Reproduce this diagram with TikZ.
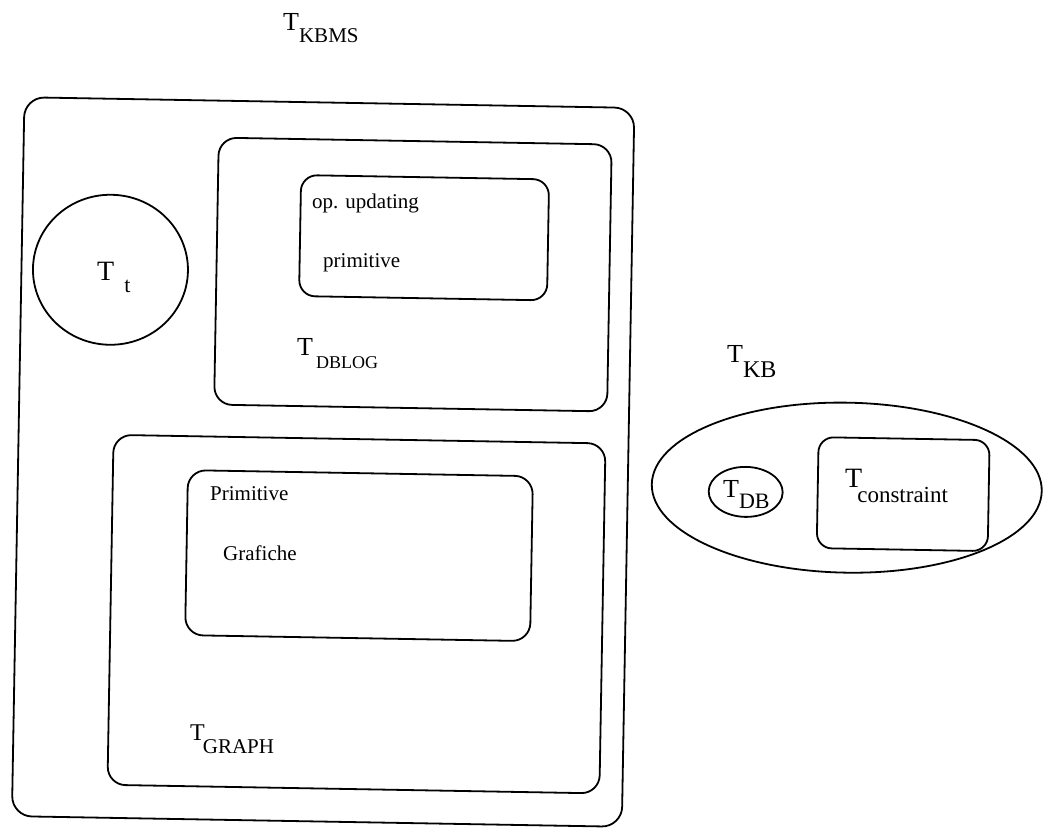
\documentclass[tikz,border=0pt]{standalone}
\usepackage{fontspec}
\setmainfont{Liberation Serif}
\usetikzlibrary{shapes.geometric}
% T with a lowered subscript: #1 T size, #2 subscript size, #3 kern, #4 drop, #5 text
\newcommand\tsubscr[5]{{\fontsize{#1}{#1}\selectfont T}\kern#3pt\raisebox{-#4pt}{\fontsize{#2}{#2}\selectfont #5}}
\tikzset{
  outline/.style={draw, line width=1.8, inner sep=0, transform shape},
  roundbox/.style={outline, rectangle, rounded corners=#1},
  oval/.style={outline, ellipse},
  lbl/.style={anchor=base west, inner sep=0},
  body/.style={lbl, font=\fontsize{21}{21}\selectfont},
}
\begin{document}
\begin{tikzpicture}[x=1pt, y=-1pt]
\fill[white] (0,0) rectangle (1048,828);
\useasboundingbox (0,0) rectangle (1048,828);

\begin{scope}[rotate around={-1:(524,414)}]
  % KBMS theory and its parts
  \node[roundbox=20, minimum width=610, minimum height=719] (kbms) at (324,465.5) {};
  \node[oval, minimum width=155, minimum height=150] (tt) at (108,277) {};
  \node[roundbox=18, minimum width=393, minimum height=267] (dblog) at (410.5,276.5) {};
  \node[roundbox=16, minimum width=248, minimum height=121] (opbox) at (421,239.5) {};
  \node[roundbox=18, minimum width=492, minimum height=350] (graph) at (360,617) {};
  \node[roundbox=18, minimum width=345, minimum height=165] (primbox) at (361.5,558.5) {};
  % KB theory
  \node[oval, minimum width=390, minimum height=170] (kb) at (848,482) {};
  \node[oval, minimum width=74, minimum height=50] (db) at (747,488) {};
  \node[roundbox=15, minimum width=171, minimum height=111] (cons) at (904.5,487.5) {};
\end{scope}

% labels
\node[lbl] (lkbms) at (283,30) {\tsubscr{26}{21}{0}{12}{KBMS}};
\node[lbl] (lt) at (97,280) {\tsubscr{28}{22}{10}{12}{t}};
\node[lbl] (ldblog) at (297,355) {\tsubscr{26}{18}{3}{13}{DBLOG}};
\node[lbl] (lgraph) at (190,740) {\tsubscr{24}{21}{-2}{13}{GRAPH}};
\node[lbl] (lkb) at (727,362) {\tsubscr{26}{24}{0}{15}{KB}};
\node[lbl] (ldb) at (723,497) {\tsubscr{26}{22}{0}{11}{DB}};
\node[lbl] (lcons) at (845,487) {\tsubscr{28}{23}{-5}{15}{constraint}};

\node[body] (op) at (312,208) {op. updating};
\node[body] (prim1) at (323,267) {primitive};
\node[body] (prim2) at (210,500) {Primitive};
\node[body] (graf) at (223,560) {Grafiche};
\end{tikzpicture}
\end{document}
